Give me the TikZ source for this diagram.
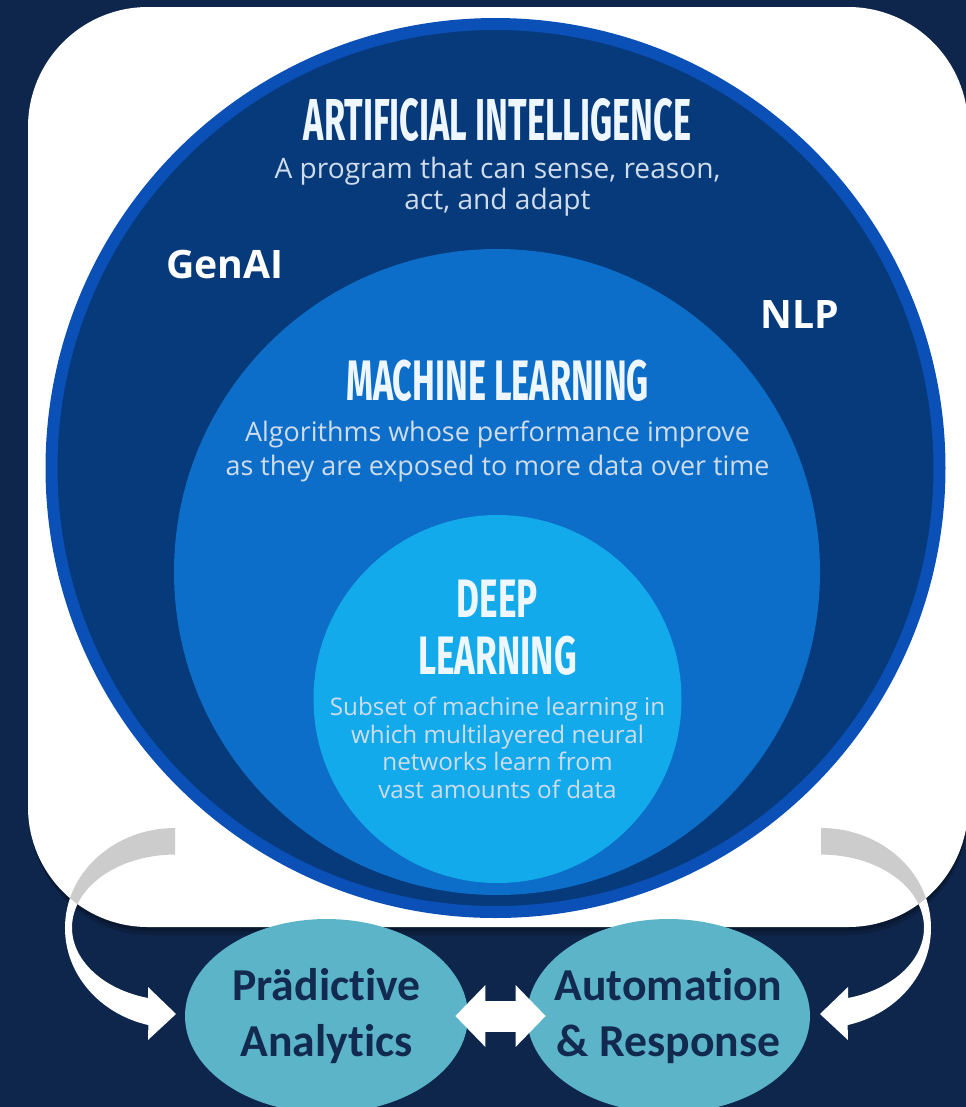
\documentclass[tikz,border=0pt]{standalone}
\usepackage{fontspec}
\setmainfont{Open Sans}
\newfontfamily\titlefont[FakeStretch=0.6]{Fira Sans}
\newfontfamily\ovalfont[Ligatures=NoCommon]{Carlito}
\usetikzlibrary{arrows.meta,shapes.geometric}

\definecolor{bgnavy}{RGB}{15,38,76}
\definecolor{ainavy}{RGB}{6,58,122}
\definecolor{ringblue}{RGB}{11,80,182}
\definecolor{mlblue}{RGB}{12,110,200}
\definecolor{dlblue}{RGB}{18,170,234}
\definecolor{titlewhite}{RGB}{238,246,255}
\definecolor{subgray}{RGB}{206,220,236}
\definecolor{ovalteal}{RGB}{92,180,200}
\definecolor{ovaltext}{RGB}{18,42,80}
\definecolor{arrowgray}{RGB}{204,204,204}

% one bent arrow, left side; the right one is its mirror image
\newcommand{\bendarrow}{(175,828) arc[start angle=270, end angle=104, x radius=110, y radius=100] -- (148,1040) -- (176,1014) -- (148,987) -- (148,998) arc[start angle=105.2, end angle=270, x radius=103, y radius=73] -- cycle}
\newcommand{\cardshape}{[rounded corners=2.4cm] (28,7) rectangle (968,927)}

\begin{document}
\begin{tikzpicture}[x=0.02cm, y=-0.02cm,
  ttl/.style n args={3}{text=titlewhite, align=center, font=\titlefont\addfontfeature{FakeStretch=#3}\bfseries\fontsize{#1}{#2}\selectfont},
  sub/.style={text=subgray, align=center},
  tag/.style={text=white, font=\bfseries\fontsize{22.3pt}{26pt}\selectfont},
  oval/.style={ellipse, fill=ovalteal, minimum width=5.66cm, minimum height=3.88cm, inner ysep=0pt, inner xsep=-1cm, text=ovaltext, align=center, font=\ovalfont\bfseries\fontsize{26pt}{32pt}\selectfont},
  twohead/.style={white, line width=0.62cm, {Triangle[length=0.6cm,width=1.2cm]}-{Triangle[length=0.6cm,width=1.2cm]}}]
\useasboundingbox (0,0) rectangle (966,1107);
\fill[bgnavy] (0,0) rectangle (966,1107);

% white card with a soft shadow
\fill[black, opacity=0.18, rounded corners=2.4cm] (30,13) rectangle (968,935);
\fill[black, opacity=0.18, rounded corners=2.4cm] (29,10) rectangle (968,931);
\fill[white] \cardshape;

% nested circles
\fill[ainavy] (495.5,468) circle[radius=449];
\draw[ringblue, line width=0.24cm] (495.5,468) circle[radius=444];
\fill[mlblue] (497,572) circle[radius=323];
\fill[dlblue] (497.5,699) circle[radius=184];

\node[ttl={33.7pt}{36pt}{0.58}] (ai) at (497.5,119.5) {ARTIFICIAL INTELLIGENCE};
\node[sub, font=\fontsize{16pt}{17.9pt}\selectfont] (aidesc) at (497.5,186.5) {A program that can sense, reason,\\act, and adapt};
\node[tag] (genai) at (225,264) {GenAI};
\node[tag] (nlp) at (800,315) {NLP};

\node[ttl={32.5pt}{34pt}{0.6}] (ml) at (497.5,381) {MACHINE LEARNING};
\node[sub, font=\fontsize{15.3pt}{19.3pt}\selectfont] (mldesc) at (497.5,451) {Algorithms whose performance improve\\as they are exposed to more data over time};

\node[ttl={30.8pt}{32.6pt}{0.65}] (dl) at (497.5,627.5) {DEEP\\LEARNING};
\node[sub, font=\fontsize{13.8pt}{15.7pt}\selectfont] (dldesc) at (497.5,748) {Subset of machine learning in\\which multilayered neural\\networks learn from\\vast amounts of data};

% bent arrows: grey on the card, white below it
\fill[white] \bendarrow;
\begin{scope}
\clip \cardshape;
\fill[arrowgray] \bendarrow;
\end{scope}
\begin{scope}[shift={(996,0)}, xscale=-1]
\fill[white] \bendarrow;
\clip \cardshape;
\fill[arrowgray] \bendarrow;
\end{scope}

% the two outcomes
\node[oval] (pa) at (326.5,1016) {Prädictive\\Analytics};
\node[oval] (ar) at (668.5,1016) {Automation\\\& Response};
\draw[twohead, shorten <=-0.26cm, shorten >=-0.38cm] (pa) -- (ar);
\end{tikzpicture}
\end{document}
